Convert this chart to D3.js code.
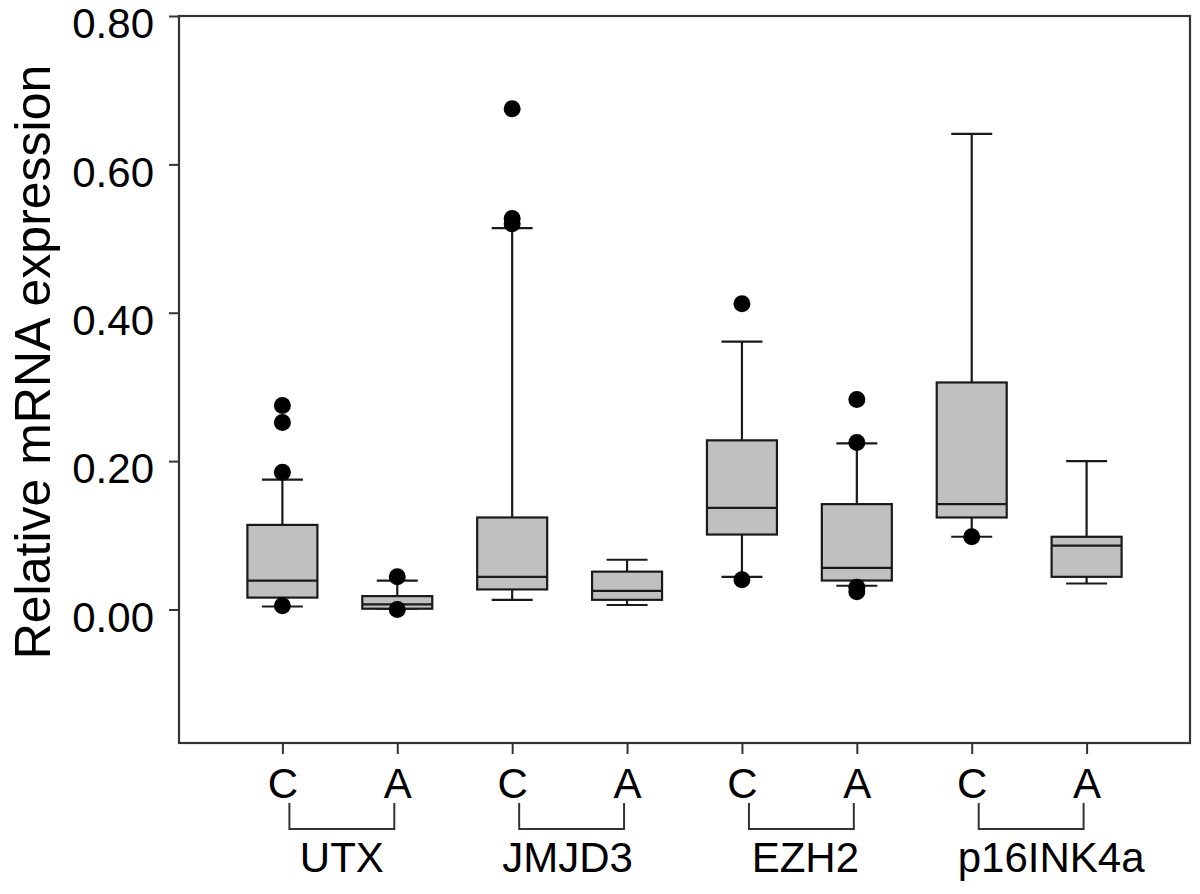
<!DOCTYPE html>
<html>
<head>
<meta charset="utf-8">
<script src="https://cdn.jsdelivr.net/npm/d3@7"></script>
<style>
  html, body { margin: 0; padding: 0; background: #fff; }
  svg { display: block; }
  text { font-family: "Liberation Sans", Arial, sans-serif; fill: #000; }
</style>
</head>
<body>
<svg id="chart" width="1200" height="894"></svg>
<script>
// ---- data ----
const groups = ["UTX", "JMJD3", "EZH2", "p16INK4a"];
const conditions = ["C", "A"];
// order: UTX C, UTX A, JMJD3 C, JMJD3 A, EZH2 C, EZH2 A, p16 C, p16 A
const whiskerLow  = [0.004, 0.001, 0.013, 0.006, 0.044, 0.032, 0.098, 0.035];
const q1          = [0.016, 0.001, 0.027, 0.013, 0.101, 0.039, 0.124, 0.044];
const medians     = [0.039, 0.007, 0.044, 0.025, 0.137, 0.056, 0.142, 0.086];
const q3          = [0.114, 0.018, 0.124, 0.051, 0.228, 0.142, 0.306, 0.098];
const whiskerHigh = [0.175, 0.039, 0.514, 0.067, 0.361, 0.224, 0.641, 0.200];
const outliers = [
  [0.275, 0.252, 0.185, 0.005],
  [0.044, 0.000],
  [0.675, 0.527, 0.520],
  [],
  [0.412, 0.040],
  [0.283, 0.225, 0.030, 0.024],
  [0.098],
  []
];
const yTicks = [0.00, 0.20, 0.40, 0.60, 0.80];
const yDomain = [-0.18, 0.80];
const yTitle = "Relative mRNA expression";

// ---- layout ----
const svg = d3.select("#chart");
const plotL = 179, plotR = 1190, plotT = 16, plotB = 743;
const keys = [];
groups.forEach(g => conditions.forEach(c => keys.push(g + "|" + c)));

const x = d3.scalePoint().domain(keys).range([plotL, plotR]).padding(0.9);
const y = d3.scaleLinear().domain(yDomain).range([plotB, plotT]);

const boxW = 70, capW = 41, sw = 2.2, stroke = "#1a1a1a";

// frame
svg.append("rect")
  .attr("x", plotL).attr("y", plotT)
  .attr("width", plotR - plotL).attr("height", plotB - plotT)
  .attr("fill", "#fff").attr("stroke", "#333").attr("stroke-width", 2.2);

// y axis
const yAxis = d3.axisLeft(y).tickValues(yTicks).tickFormat(d3.format(".2f"))
  .tickSize(10).tickPadding(15);
const gy = svg.append("g").attr("transform", `translate(${plotL},0)`).call(yAxis);
gy.select(".domain").remove();
gy.selectAll(".tick line").attr("stroke", "#333").attr("stroke-width", 2);
gy.selectAll(".tick text")
  .style("font-family", '"Liberation Sans", Arial, sans-serif')
  .style("font-size", "42px").attr("fill", "#000").attr("dy", "0.52em");

// y title
svg.append("text")
  .attr("transform", "translate(50,362) rotate(-90)")
  .attr("text-anchor", "middle")
  .style("font-size", "50px")
  .text(yTitle);

// x axis
const xAxis = d3.axisBottom(x).tickSize(11).tickFormat(d => d.split("|")[1]).tickPadding(14);
const gx = svg.append("g").attr("transform", `translate(0,${plotB})`).call(xAxis);
gx.select(".domain").remove();
gx.selectAll(".tick line").attr("stroke", "#333").attr("stroke-width", 2);
gx.selectAll(".tick text")
  .style("font-family", '"Liberation Sans", Arial, sans-serif')
  .style("font-size", "42px").attr("fill", "#000").attr("dy", "0.72em");

// brackets and group labels
const labelShift = [0, -4, 4, 20];
groups.forEach((g, i) => {
  const xc = x(g + "|C") + 7, xa = x(g + "|A") - 3;
  svg.append("path")
    .attr("d", `M${xc},803 V829 H${xa} V803`)
    .attr("fill", "none").attr("stroke", "#333").attr("stroke-width", 2);
  svg.append("text")
    .attr("x", (xc + xa) / 2 + labelShift[i]).attr("y", 872)
    .attr("text-anchor", "middle")
    .style("font-size", "42px")
    .text(g);
});

// boxes
const boxes = keys.map((k, i) => ({
  key: k, lo: whiskerLow[i], q1: q1[i], med: medians[i], q3: q3[i], hi: whiskerHigh[i], out: outliers[i]
}));

const bg = svg.append("g").selectAll("g").data(boxes).join("g")
  .attr("transform", d => `translate(${x(d.key)},0)`);

// whisker stems
bg.append("line").attr("x1", 0).attr("x2", 0)
  .attr("y1", d => y(d.hi)).attr("y2", d => y(d.q3))
  .attr("stroke", stroke).attr("stroke-width", sw);
bg.append("line").attr("x1", 0).attr("x2", 0)
  .attr("y1", d => y(d.q1)).attr("y2", d => y(d.lo))
  .attr("stroke", stroke).attr("stroke-width", sw);
// caps
bg.append("line").attr("x1", -capW / 2).attr("x2", capW / 2)
  .attr("y1", d => y(d.hi)).attr("y2", d => y(d.hi))
  .attr("stroke", stroke).attr("stroke-width", sw);
bg.append("line").attr("x1", -capW / 2).attr("x2", capW / 2)
  .attr("y1", d => y(d.lo)).attr("y2", d => y(d.lo))
  .attr("stroke", stroke).attr("stroke-width", sw);
// box
bg.append("rect")
  .attr("x", -boxW / 2).attr("width", boxW)
  .attr("y", d => y(d.q3)).attr("height", d => Math.max(1, y(d.q1) - y(d.q3)))
  .attr("fill", "#c0c0c0").attr("stroke", stroke).attr("stroke-width", sw);
// median
bg.append("line").attr("x1", -boxW / 2).attr("x2", boxW / 2)
  .attr("y1", d => y(d.med)).attr("y2", d => y(d.med))
  .attr("stroke", stroke).attr("stroke-width", sw);
// outliers
bg.selectAll("circle").data(d => d.out).join("circle")
  .attr("cx", 0).attr("cy", v => y(v)).attr("r", 8.5)
  .attr("fill", "#000");
</script>
</body>
</html>
